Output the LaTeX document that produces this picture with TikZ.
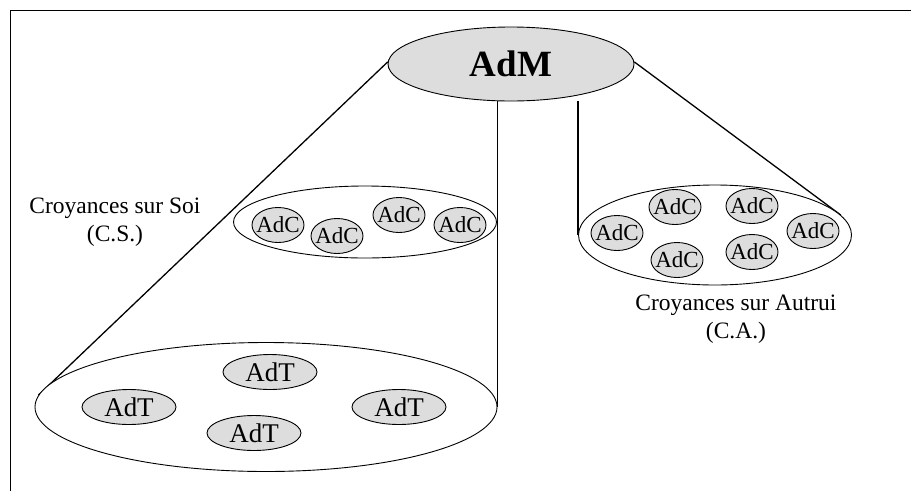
\documentclass[tikz,border=0pt]{standalone}
\usepackage{fontspec}
\setmainfont{Liberation Serif}
\usetikzlibrary{shapes.geometric,backgrounds}
\definecolor{bubble}{HTML}{DDDDDD}
% text set in a zero-width box so the ellipse keeps its own size
\newcommand{\tightlabel}[1]{\makebox[0pt]{#1}}
\tikzset{
  every picture/.style={x=1pt,y=-1pt},
  group/.style={ellipse,draw,line width=0.9pt,fill=white,inner sep=0pt},
  adc/.style={ellipse,draw,line width=0.9pt,fill=bubble,inner sep=0pt,
    minimum width=52pt,minimum height=35pt,font=\fontsize{23}{26}\selectfont},
  adt/.style={ellipse,draw,line width=0.9pt,fill=bubble,inner sep=0pt,
    minimum width=94pt,minimum height=35pt,font=\fontsize{27}{30}\selectfont},
  link/.style={line width=1.3pt},
  caption/.style={align=center,font=\fontsize{23.5}{28}\selectfont}
}
\begin{document}
\begin{tikzpicture}
\useasboundingbox (0,0) rectangle (911,491);
% frame
\draw[line width=1pt] (911,10) -- (10,10) -- (10,491);

% top-level mental attitude
\node[ellipse,draw,line width=0.9pt,fill=bubble,minimum width=246pt,minimum height=74pt,
  inner sep=0pt,font=\fontsize{37}{40}\selectfont\bfseries] (adm) at (511,64) {AdM};

% beliefs about self
\node[group,minimum width=263pt,minimum height=72pt] (cs) at (365,222) {};
\node[adc] (cs1) at (278,225) {\tightlabel{AdC}};
\node[adc] (cs2) at (337,236) {\tightlabel{AdC}};
\node[adc] (cs3) at (399,215) {\tightlabel{AdC}};
\node[adc] (cs4) at (460,225) {\tightlabel{AdC}};
\node[caption] (cslabel) at (115,222) {Croyances sur Soi\\(C.S.)};

% beliefs about others
\node[group,minimum width=273pt,minimum height=100pt] (ca) at (715,235) {};
\node[adc] (ca1) at (617,233) {\tightlabel{AdC}};
\node[adc] (ca2) at (675,207) {\tightlabel{AdC}};
\node[adc] (ca3) at (752,206) {\tightlabel{AdC}};
\node[adc] (ca4) at (813,231) {\tightlabel{AdC}};
\node[adc] (ca5) at (677,260) {\tightlabel{AdC}};
\node[adc] (ca6) at (752,252) {\tightlabel{AdC}};
\node[caption] (calabel) at (736,319) {Croyances sur Autrui\\(C.A.)};

% task attitudes
\node[group,minimum width=462pt,minimum height=129pt] (adtgroup) at (266,407) {};
\node[adt] (adt1) at (129,407) {\tightlabel{AdT}};
\node[adt] (adt2) at (270,372) {\tightlabel{AdT}};
\node[adt] (adt3) at (254,433) {\tightlabel{AdT}};
\node[adt] (adt4) at (399,407) {\tightlabel{AdT}};

% connectors
\begin{pgfonlayer}{background}
\draw[link] (adm.179) -- (adtgroup.177.5);
\draw[link] (adtgroup.east) -- (adtgroup.east |- adm.south);
\draw[link] (ca.west) -- (ca.west |- adm.south);
\draw[link] (adm.1) -- (ca.9);
\end{pgfonlayer}
\end{tikzpicture}
\end{document}
